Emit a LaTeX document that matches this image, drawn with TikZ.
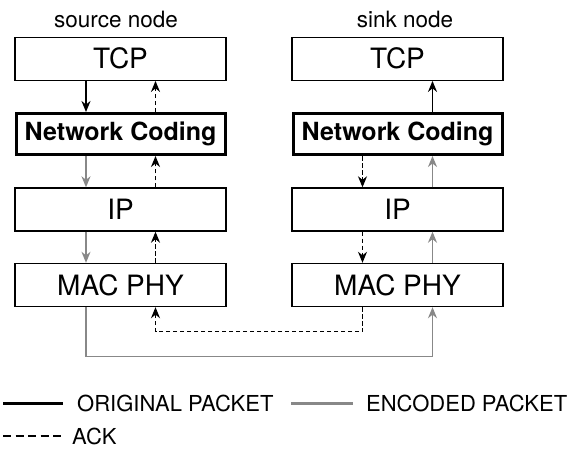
\documentclass[tikz,border=0pt]{standalone}
\usepackage{fontspec}
\setmainfont{TeX Gyre Heros}
\usetikzlibrary{arrows.meta}
\definecolor{grayline}{HTML}{888888}
\tikzset{
  layer/.style={draw=black, line width=1.4pt, minimum width=211pt, minimum height=43pt, inner sep=0pt, font=\fontsize{28}{32}\selectfont},
  nclayer/.style={draw=black, line width=3pt, minimum width=209pt, minimum height=41pt, inner sep=0pt, font=\fontsize{25}{29}\selectfont\bfseries},
  tip/.style={-{Stealth[length=11pt,width=9pt,inset=3.5pt]}},
  orig/.style={tip, draw=black, line width=1.4pt},
  enc/.style={tip, draw=grayline, line width=1.4pt},
  ackline/.style={tip, draw=black, line width=1.4pt, dash pattern=on 4.5pt off 2.5pt},
  title/.style={font=\fontsize{22.5}{26}\selectfont, inner sep=0pt},
  legtext/.style={font=\fontsize{22}{26}\selectfont, inner sep=0pt, anchor=west}
}
\begin{document}
\begin{tikzpicture}[x=1pt,y=-1pt]
\useasboundingbox (0,0) rectangle (574,453);
% titles
\node[title] (tsrc) at (116,19) {source node};
\node[title] (tsnk) at (405,19) {sink node};
% left column
\node[layer] (tcpL) at (120.5,58.7) {TCP};
\node[nclayer] (ncL) at (120.5,134) {Network Coding};
\node[layer] (ipL) at (120.5,209.5) {IP};
\node[layer] (macL) at (120.5,285) {MAC PHY};
% right column
\node[layer] (tcpR) at (397.5,58.7) {TCP};
\node[nclayer] (ncR) at (397.5,134) {Network Coding};
\node[layer] (ipR) at (397.5,209.5) {IP};
\node[layer] (macR) at (397.5,285) {MAC PHY};
% left arrows
\draw[orig] ([xshift=-34.5pt]tcpL.south) -- ([xshift=-34.5pt]ncL.north);
\draw[ackline] ([xshift=35pt]ncL.north) -- ([xshift=35pt]tcpL.south);
\draw[enc] ([xshift=-34.5pt]ncL.south) -- ([xshift=-34.5pt]ipL.north);
\draw[ackline] ([xshift=35pt]ipL.north) -- ([xshift=35pt]ncL.south);
\draw[enc] ([xshift=-34.5pt]ipL.south) -- ([xshift=-34.5pt]macL.north);
\draw[ackline] ([xshift=35pt]macL.north) -- ([xshift=35pt]ipL.south);
% right arrows
\draw[orig] ([xshift=35pt]ncR.north) -- ([xshift=35pt]tcpR.south);
\draw[ackline] ([xshift=-35pt]ncR.south) -- ([xshift=-35pt]ipR.north);
\draw[enc] ([xshift=35pt]ipR.north) -- ([xshift=35pt]ncR.south);
\draw[ackline] ([xshift=-35pt]ipR.south) -- ([xshift=-35pt]macR.north);
\draw[enc] ([xshift=35pt]macR.north) -- ([xshift=35pt]ipR.south);
% bottom links
\coordinate (encY) at (0,356.7);
\coordinate (ackY) at (0,331.7);
\draw[enc] ([xshift=-34.5pt]macL.south) -- ([xshift=-34.5pt]macL.south |- encY) -- ([xshift=35pt]macR.south |- encY) -- ([xshift=35pt]macR.south);
\draw[ackline] ([xshift=-35pt]macR.south) -- ([xshift=-35pt]macR.south |- ackY) -- ([xshift=35pt]macL.south |- ackY) -- ([xshift=35pt]macL.south);
% legend
\coordinate (l1a) at (3,403.5);
\coordinate (l1b) at (63,403.5);
\coordinate (l2a) at (291,403.5);
\coordinate (l2b) at (353,403.5);
\coordinate (l3a) at (3,436);
\coordinate (l3b) at (63,436);
\draw[black, line width=2.2pt] (l1a) -- (l1b);
\draw[grayline, line width=2.6pt] (l2a) -- (l2b);
\draw[black, line width=1.6pt, dash pattern=on 8pt off 4.5pt] (l3a) -- (l3b);
\node[legtext] (lt1) at (77,403.5) {ORIGINAL PACKET};
\node[legtext] (lt2) at (366,403.5) {ENCODED PACKET};
\node[legtext] (lt3) at (72,436) {ACK};
\end{tikzpicture}
\end{document}
